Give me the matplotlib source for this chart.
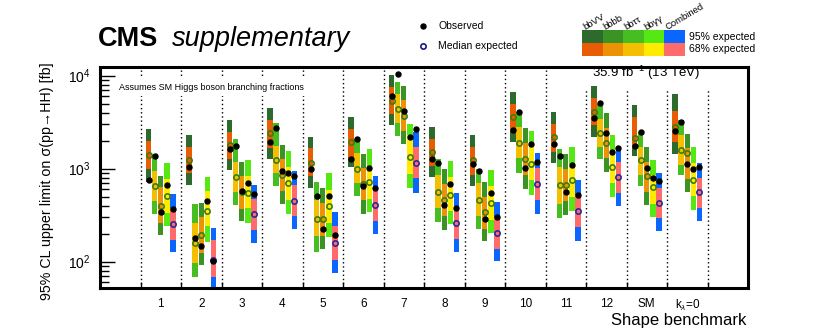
import matplotlib
matplotlib.use('Agg')
import matplotlib.pyplot as plt
from matplotlib.patches import Rectangle
from matplotlib.lines import Line2D
import numpy as np

plt.rcParams['font.family'] = ['Liberation Sans', 'DejaVu Sans']
plt.rcParams['mathtext.fontset'] = 'custom'
plt.rcParams['mathtext.rm'] = 'Liberation Sans'
plt.rcParams['mathtext.it'] = 'Liberation Sans:italic'

benchmarks = ['1', '2', '3', '4', '5', '6', '7', '8', '9', '10', '11', '12', 'SM', r'k$_{\lambda}$=0']

# 95% CL limits in fb, one value per benchmark
bbVV_obs = [760, 1054, 1617, 1954, 986, 1274, 6096, 1264, 1117, 2607, 1845, 3540, 1757, 2564]
bbVV_exp = [1410, 1242, 1800, 2404, 1164, 1941, 5383, 1503, 1242, 3565, 2177, 4103, 2124, 2831]
bbVV_m2 = [710, 665, 970, 1285, 622, 1038, 2951, 810, 653, 1941, 1164, 2213, 1371, 1442]
bbVV_m1 = [995, 893, 1274, 1687, 837, 1349, 3837, 1072, 857, 2546, 1527, 2951, 1799, 1954]
bbVV_p1 = [1990, 1725, 2500, 3340, 1660, 2674, 7600, 2070, 1700, 4956, 3029, 5700, 3565, 4169]
bbVV_p2 = [2650, 2324, 3340, 4460, 2213, 3622, 10140, 2831, 2306, 6670, 4103, 7730, 4842, 6295]

bbtt_obs = [1380, 178, 1757, 2761, 502, 2070, 10400, 1145, 955, 4103, 1371, 5035, 2500, 3200]
bbtt_exp = [655, 157, 803, 1242, 289, 1002, 4348, 559, 455, 1906, 659, 2404, 1242, 1592]
bbtt_m2 = [327, 68, 406, 653, 127, 511, 2270, 267, 224, 908, 294, 1264, 653, 844]
bbtt_m1 = [445, 97, 555, 893, 187, 698, 3076, 376, 312, 1295, 419, 1700, 857, 1099]
bbtt_p1 = [950, 260, 1173, 1757, 462, 1466, 6351, 857, 698, 2831, 1054, 3397, 1725, 2306]
bbtt_p2 = [1350, 412, 2070, 3076, 710, 2104, 8610, 1264, 986, 4103, 1617, 4920, 2460, 3340]

bbbb_obs = [341, 146, 575, 955, 226, 643, 4207, 402, 287, 1028, 564, 2443, 1028, 1125]
bbbb_exp = [399, 195, 560, 844, 289, 681, 3716, 455, 338, 1264, 670, 1906, 824, 1479]
bbbb_m2 = [192, 91, 271, 419, 138, 327, 1845, 220, 165, 603, 319, 931, 402, 555]
bbbb_m1 = [260, 124, 371, 569, 190, 462, 2564, 306, 224, 844, 444, 1295, 559, 778]
bbbb_p1 = [628, 299, 837, 1264, 426, 1011, 5470, 687, 494, 1875, 986, 2717, 1193, 1660]
bbbb_p2 = [837, 426, 1193, 1799, 612, 1442, 7800, 986, 716, 2717, 1442, 4000, 1725, 2360]

bbgg_obs = [670, 444, 698, 908, 502, 1028, 2213, 692, 546, 1845, 1082, 1527, 791, 995]
bbgg_exp = [511, 347, 546, 698, 393, 721, 1349, 527, 426, 1125, 746, 1054, 632, 759]
bbgg_m2 = [239, 161, 260, 327, 184, 338, 617, 252, 203, 523, 352, 494, 301, 361]
bbgg_m1 = [333, 239, 376, 462, 260, 470, 879, 347, 277, 746, 494, 698, 419, 502]
bbgg_p1 = [783, 569, 837, 1054, 592, 1072, 2306, 803, 653, 1700, 1117, 1566, 857, 1145]
bbgg_p2 = [1164, 810, 1242, 1553, 908, 1644, 2999, 1213, 970, 2564, 1700, 2306, 1242, 1700]

comb_obs = [367, 102, 532, 837, 192, 617, 2674, 373, 299, 1173, 523, 1660, 740, 1038]
comb_exp = [256, 103, 322, 452, 158, 402, 1145, 260, 203, 676, 347, 803, 426, 555]
comb_m2 = [126, 45, 158, 224, 75, 200, 546, 127, 101, 325, 165, 393, 215, 271]
comb_m1 = [172, 68, 217, 306, 105, 271, 791, 177, 138, 455, 236, 546, 294, 376]
comb_p1 = [377, 172, 470, 670, 239, 592, 1725, 376, 301, 1011, 523, 1193, 617, 791]
comb_p2 = [532, 230, 670, 946, 344, 837, 2500, 546, 434, 1466, 746, 1700, 893, 1145]

# channel order as drawn left to right inside each benchmark
channels = [
    ('bbVV', bbVV_obs, bbVV_exp, bbVV_m2, bbVV_m1, bbVV_p1, bbVV_p2),
    ('bbττ', bbtt_obs, bbtt_exp, bbtt_m2, bbtt_m1, bbtt_p1, bbtt_p2),
    ('bbbb', bbbb_obs, bbbb_exp, bbbb_m2, bbbb_m1, bbbb_p1, bbbb_p2),
    ('bbγγ', bbgg_obs, bbgg_exp, bbgg_m2, bbgg_m1, bbgg_p1, bbgg_p2),
    ('Combined', comb_obs, comb_exp, comb_m2, comb_m1, comb_p1, comb_p2),
]
legend_order = ['bbVV', 'bbbb', 'bbττ', 'bbγγ', 'Combined']

col95 = {'bbVV': '#2d6a2d', 'bbbb': '#3a9322', 'bbττ': '#46bd20', 'bbγγ': '#55e812', 'Combined': '#0a66ff'}
col68 = {'bbVV': '#e85d04', 'bbbb': '#ee9205', 'bbττ': '#f3bf00', 'bbγγ': '#ffeb00', 'Combined': '#ff6b6b'}

W, H = 830, 330
fig = plt.figure(figsize=(W / 100, H / 100), dpi=100)
ax = fig.add_axes([100 / W, 42 / H, 648 / W, 221 / H])

x = np.arange(len(benchmarks)) + 1.5
offsets = [-0.3, -0.15, 0.0, 0.15, 0.3]
bw = 0.135

for (name, obs, exp, m2, m1, p1, p2), dx in zip(channels, offsets):
    xs = x + dx
    ax.bar(xs, np.array(p2) - np.array(m2), bottom=m2, width=bw, color=col95[name], zorder=2)
    ax.bar(xs, np.array(p1) - np.array(m1), bottom=m1, width=bw, color=col68[name], zorder=3)
    ec = '#2a2a9a' if name == 'Combined' else '#3d7d0a'
    ax.plot(xs, exp, 'o', ms=3.8, mfc='none', mec=ec, mew=1.2, zorder=4)
    ax.plot(xs, obs, 'o', ms=3.6, color='black', zorder=5)

# benchmark separators (the ones under the lumi label stop short)
for k in range(1, 16):
    ax.axvline(k, color='black', ls=(0, (1, 2)), lw=1.0, ymax=0.90 if k >= 12 else 1.0, zorder=1)

ax.set_yscale('log')
ax.set_ylim(52, 12400)
ax.set_xlim(0, 16)
ax.set_xticks(x, benchmarks)
ax.set_xticks(np.arange(1, 16), minor=True)
ax.tick_params(axis='x', which='major', length=0, pad=7, labelsize=8.5)
ax.tick_params(axis='x', which='minor', direction='in', length=4, width=1)
ax.tick_params(axis='y', which='major', direction='in', length=11, width=1, pad=7, labelsize=10)
ax.tick_params(axis='y', which='minor', direction='in', length=6.5, width=1)
for sp in ax.spines.values():
    sp.set_linewidth(2.2)

ax.text(19 / 648, (288 - 87) / 221, 'Assumes SM Higgs boson branching fractions', transform=ax.transAxes,
        fontsize=6.5, ha='left', va='center', zorder=6,
        bbox=dict(facecolor='white', edgecolor='none', pad=3.5))
ax.text(600 / 648, (288 - 73) / 221, r'35.9 fb$^{-1}$ (13 TeV)', transform=ax.transAxes,
        fontsize=9.5, ha='right', va='center', zorder=6)

fig.text(98 / W, 1 - 46 / H, 'CMS', fontsize=19.5, fontweight='bold', va='baseline')
fig.text(172 / W, 1 - 46 / H, 'supplementary', fontsize=19.5, style='italic', va='baseline')

fig.text(47 / W, 1 - 62 / H, '95% CL upper limit on σ(pp→HH) [fb]', rotation=90,
         ha='center', va='top', fontsize=10.3)
fig.text(746 / W, 1 - 320 / H, 'Shape benchmark', ha='right', va='center', fontsize=12)

# marker legend
fig.add_artist(Line2D([423 / W], [1 - 26 / H], marker='o', ms=3.6, color='black', ls='none'))
fig.add_artist(Line2D([423 / W], [1 - 46 / H], marker='o', ms=3.8, mfc='none', mec='#1a1a80', mew=1.2, ls='none'))
fig.text(438 / W, 1 - 26 / H, 'Observed', fontsize=7.5, va='center')
fig.text(438 / W, 1 - 46 / H, 'Median expected', fontsize=7.5, va='center')

# band colour table
cw = 20.6
for i, name in enumerate(legend_order):
    x0 = 582 + i * cw
    fig.add_artist(Rectangle((x0 / W, 1 - 43 / H), cw / W, 13 / H, transform=fig.transFigure,
                             facecolor=col95[name], edgecolor='none'))
    fig.add_artist(Rectangle((x0 / W, 1 - 56 / H), cw / W, 13 / H, transform=fig.transFigure,
                             facecolor=col68[name], edgecolor='none'))
    fig.text((x0 + 3) / W, 1 - 30 / H, name, fontsize=6.8, rotation=31, rotation_mode='anchor',
             ha='left', va='baseline')
fig.text(689 / W, 1 - 36.5 / H, '95% expected', fontsize=7.5, va='center')
fig.text(689 / W, 1 - 49.5 / H, '68% expected', fontsize=7.5, va='center')

fig.savefig('out.png', dpi=100)
